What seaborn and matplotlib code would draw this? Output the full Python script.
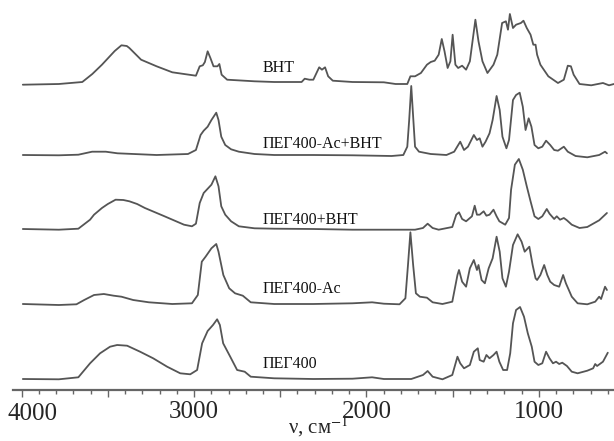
import numpy as np
import pandas as pd
import matplotlib
matplotlib.use("Agg")
import matplotlib.pyplot as plt
import seaborn as sns
from matplotlib.ticker import MultipleLocator

# IR spectra, wavenumber (cm-1) vs relative absorbance (arb. units)
bht_nu = [3993, 3784, 3648, 3590, 3534, 3460, 3421, 3390, 3375, 3307, 3217, 3126, 3058, 2989, 2967, 2949,
          2937, 2921, 2905, 2887, 2864, 2853, 2840, 2808, 2649, 2535, 2376, 2358, 2331, 2308, 2274, 2258,
          2240, 2222, 2195, 2081, 1899, 1831, 1763, 1745, 1718, 1684, 1649, 1627, 1604, 1581, 1563, 1547,
          1529, 1513, 1500, 1484, 1468, 1445, 1422, 1400, 1368, 1350, 1327, 1298, 1263, 1241, 1213, 1191,
          1179, 1168, 1150, 1132, 1104, 1089, 1070, 1048, 1032, 1019, 1010, 991, 945, 889, 855, 832, 814,
          798, 764, 696, 628, 593, 564]
bht_abs = [-0.7, 0, 2, 10, 19.3, 33, 38.7, 38, 36, 24.3, 17.7, 11.7, 10, 8.3, 17.7, 18.7,
           22, 32.7, 26, 17.7, 17.7, 20, 9.3, 4.3, 2.7, 2, 2, 5.3, 4.3, 4.3, 16.7, 14.3,
           16.7, 7.7, 3.3, 2, 1.7, 0, 0, 7.7, 7.7, 11, 19.3, 22, 23.3, 29.3, 45, 32.7,
           16, 22.7, 49.3, 19.3, 16, 18.3, 14.3, 22.7, 64.3, 42.7, 22.7, 11, 19.3, 29.3, 61, 62.7,
           54.3, 70, 56, 59.3, 61, 63.3, 56, 49.3, 39.3, 39.3, 29.3, 19.3, 7.7, 1, 4.3, 18.3, 17.7,
           9.3, 0, -1.3, 1, -1.3, 0]

acbht_nu = [3993, 3784, 3671, 3591, 3512, 3444, 3217, 3035, 2989, 2962, 2944, 2921, 2899, 2871, 2858, 2842,
            2819, 2785, 2740, 2649, 2535, 2308, 2081, 1854, 1786, 1763, 1752, 1740, 1729, 1718, 1695, 1627,
            1536, 1491, 1456, 1434, 1411, 1377, 1359, 1343, 1327, 1309, 1286, 1268, 1245, 1227, 1211, 1188,
            1173, 1150, 1132, 1111, 1093, 1077, 1059, 1043, 1025, 1003, 980, 958, 934, 911, 889, 855, 832,
            787, 719, 650, 616, 605]
acbht_abs = [0, -0.3, 0.3, 3.3, 3.3, 1.7, 0, 1, 5, 20, 24.3, 28.3, 35, 42.3, 35, 18.3,
             10, 5.7, 3.3, 1, 0, 0, -0.3, -1, 0, 8.3, 35, 69, 38.3, 8.3, 3.3, 1,
             0, 3.3, 13.3, 5, 8.3, 20, 15, 16.7, 8.3, 13.3, 21.7, 35, 59, 45, 18.3, 6.7,
             15, 55, 60, 62.3, 48.3, 25, 36.7, 28.3, 10, 6.7, 8.3, 14.3, 10, 5, 4.3, 8.3, 3.3,
             -1, -2.3, 0, 3.3, 1.7]

pegbht_nu = [3993, 3784, 3671, 3603, 3580, 3534, 3500, 3455, 3410, 3375, 3330, 3285, 3171, 3058, 3012, 2989,
             2967, 2944, 2899, 2876, 2858, 2842, 2819, 2785, 2740, 2649, 2535, 2308, 2081, 1854, 1718, 1672,
             1645, 1616, 1581, 1502, 1479, 1463, 1445, 1422, 1388, 1372, 1359, 1343, 1320, 1304, 1286, 1263,
             1245, 1229, 1195, 1173, 1161, 1139, 1116, 1093, 1070, 1048, 1025, 1003, 980, 954, 938, 911,
             896, 877, 855, 837, 809, 764, 719, 650, 605]
pegbht_abs = [0, -0.7, 0.3, 9.3, 14.3, 21, 25, 29.3, 29, 27.7, 25, 21, 12.7, 4.3, 2.7, 5.3,
              26, 36, 44.3, 52.7, 42.7, 22.7, 14.3, 7.7, 2.7, 0.7, 0.3, 0, -0.7, -0.7, -0.7, 1,
              5.3, 1, -0.7, 2, 14.3, 16.7, 10, 7.7, 12.7, 23.3, 14.3, 14.3, 17.7, 13.3, 14.3, 19.3,
              12.7, 7.7, 4.3, 11, 39.3, 64.3, 70, 59.3, 42.7, 27.7, 12.7, 10, 12.7, 20, 15.3, 10,
              12.7, 9.3, 11, 8.7, 4.3, 1, 2, 8.7, 16]

pegac_nu = [3993, 3784, 3682, 3637, 3580, 3523, 3466, 3421, 3353, 3262, 3126, 3012, 2978, 2955, 2933, 2899,
            2871, 2858, 2830, 2796, 2762, 2717, 2671, 2535, 2308, 2081, 1967, 1899, 1808, 1774, 1759, 1745,
            1729, 1713, 1690, 1649, 1616, 1559, 1502, 1472, 1463, 1445, 1422, 1400, 1377, 1359, 1350, 1332,
            1313, 1291, 1268, 1245, 1227, 1211, 1191, 1173, 1150, 1123, 1100, 1082, 1055, 1036, 1019, 1010,
            991, 969, 951, 934, 911, 882, 859, 843, 809, 775, 719, 673, 650, 639, 616, 605]
pegac_abs = [0, -1, -0.3, 4, 9, 10, 8.3, 7.3, 4, 1.7, 0, 0.7, 9, 42.3, 47.3, 55.7,
             60, 52.3, 29, 15.7, 10.7, 8.3, 1.7, 0, 0, 0.7, 1.7, 0.3, -0.3, 5.7, 39, 71.7,
             39, 10.7, 7.3, 6.3, 1.7, 0, 2.3, 29, 34, 22.3, 17.3, 35.7, 44, 34, 39, 24,
             20.7, 35.7, 45.7, 67.3, 52.3, 25.7, 17.3, 32.3, 59, 69.7, 62.3, 52.3, 57.3, 39, 25.7, 24,
             29, 39, 29, 22.3, 19, 17.3, 29, 20.7, 7.3, 0.7, -0.3, 2.3, 7.3, 5, 17.3, 14]

peg_nu = [3993, 3784, 3671, 3603, 3545, 3487, 3446, 3388, 3313, 3237, 3156, 3080, 3022, 2982, 2953, 2921,
          2890, 2866, 2850, 2831, 2790, 2750, 2706, 2671, 2535, 2308, 2081, 1967, 1899, 1740, 1672, 1645,
          1616, 1559, 1502, 1472, 1456, 1434, 1400, 1377, 1354, 1343, 1320, 1304, 1286, 1263, 1245, 1229,
          1207, 1184, 1166, 1150, 1132, 1109, 1086, 1064, 1041, 1025, 1003, 980, 958, 938, 918, 900,
          882, 864, 837, 809, 775, 719, 685, 673, 662, 628, 600]
peg_abs = [0, -0.3, 1.7, 15.7, 25.7, 32.3, 34, 33.3, 27.3, 20.7, 12.3, 5.7, 4.7, 9, 35.7, 48,
           54, 59.7, 54, 35.7, 22.3, 9, 7.3, 2.3, 0.7, 0, 0.3, 1.7, 0, 0, 4, 8,
           2.3, -0.3, 4, 22.3, 15.7, 10.7, 14, 27.3, 30.7, 19, 17.3, 24, 20.7, 24, 27.3, 17.3,
           9, 9, 25.7, 55.7, 69, 72, 62.3, 45.7, 32.3, 17.3, 14, 15.7, 27.3, 20.7, 15.7, 17.3,
           15, 16.3, 13, 7.3, 5.7, 8.3, 10.7, 15, 13, 17.3, 26.3]

names = ["BHT", "ПЕГ400-Ac+BHT", "ПЕГ400+BHT", "ПЕГ400-Ac", "ПЕГ400"]
offsets = [295, 224, 150, 75, 0]
label_y = [307, 231, 155, 86, 11]

spectra = [(bht_nu, bht_abs), (acbht_nu, acbht_abs), (pegbht_nu, pegbht_abs),
           (pegac_nu, pegac_abs), (peg_nu, peg_abs)]

sns.set_style("white")
plt.rcParams["font.family"] = ["Liberation Serif", "DejaVu Serif"]
plt.rcParams["mathtext.fontset"] = "stix"

fig = plt.figure(figsize=(6.14, 4.41), dpi=100)
ax = fig.add_axes([13 / 614, 51 / 441, 601 / 614, 390 / 441])

line_color = "#555555"
for (nu, a), off in zip(spectra, offsets):
    df = pd.DataFrame({"nu": nu, "a": np.array(a) + off})
    sns.lineplot(data=df, x="nu", y="a", sort=False, estimator=None,
                 color=line_color, lw=1.3, ax=ax)

for name, y in zip(names, label_y):
    ax.text(2600, y, name, fontsize=11.5, va="baseline", ha="left", color="#111111")

ax.set_xlim(4050, 564)
ax.set_ylim(-11, 379)
ax.set_yticks([])
ax.set_xlabel("")
ax.set_ylabel("")
for s in ["left", "right", "top"]:
    ax.spines[s].set_visible(False)
ax.spines["bottom"].set_color("#666666")
ax.spines["bottom"].set_linewidth(1.6)

ax.xaxis.set_major_locator(MultipleLocator(500))
ax.xaxis.set_major_formatter(lambda v, p: f"{int(v)}" if int(v) % 1000 == 0 and int(v) != 4000 else "")
ax.xaxis.set_minor_locator(MultipleLocator(100))
ax.tick_params(axis="x", which="major", direction="out", length=5, width=1, color="#666666",
               labelsize=18, pad=3, bottom=True)
ax.tick_params(axis="x", which="minor", direction="out", length=3, width=1, color="#666666", bottom=True)

# leftmost label sits slightly right of its tick in the original
fig.text(33 / 614, (441 - 420) / 441, "4000", fontsize=18, ha="center", va="baseline")
fig.text(318 / 614, 7 / 441, "ν, см$^{-1}$", fontsize=15, ha="center", va="baseline")

fig.savefig("out.png", dpi=100)
